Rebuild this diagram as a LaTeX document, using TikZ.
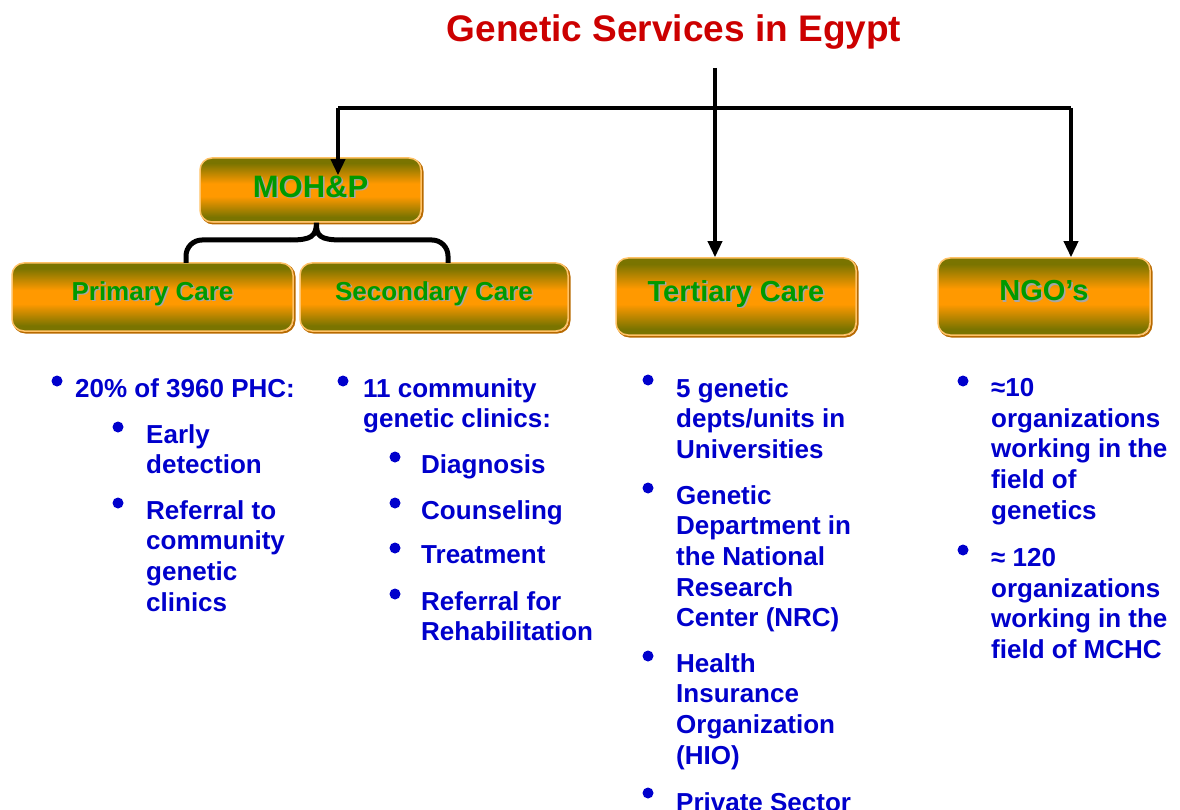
\documentclass[tikz,border=0pt]{standalone}
\usepackage{fontspec}
\setmainfont{Liberation Sans}
\usepackage{tikz}
\usetikzlibrary{positioning,calc,arrows.meta}
\definecolor{titlered}{HTML}{CC0000}
\definecolor{itemblue}{HTML}{0000CC}
\definecolor{boxgreen}{HTML}{009900}
\definecolor{boxolive}{HTML}{7A7400}
\definecolor{boxorange}{HTML}{FF9900}
\definecolor{boxrim}{HTML}{FFC266}
\definecolor{boxshade}{HTML}{B86A00}
\pgfdeclareverticalshading{carefill}{100bp}{color(0bp)=(boxolive); color(29bp)=(boxolive);
    color(45bp)=(boxorange); color(55bp)=(boxorange); color(71bp)=(boxolive); color(100bp)=(boxolive)}
\newcommand{\boxtext}[2][12pt]{\raisebox{#1}{\rlap{\hspace{1.5pt}\raisebox{-1.5pt}{\textcolor{gray!70}{#2}}}\textcolor{boxgreen}{#2}}}

\begin{document}
\begin{tikzpicture}[
    x=1pt, y=-1pt,
    >={Triangle[length=16pt,width=14pt]},
    wire/.style={draw, line width=3.5pt},
    brace/.style={draw, line width=5pt},
    carebox/.style={ draw=boxrim,
                     line width=1.5pt,
                     rounded corners=12pt,
                     shading=carefill,
                     font=\fontsize{26}{30}\selectfont\bfseries,
                     inner sep=0pt,
                     preaction={draw=boxshade, line width=2pt, transform canvas={xshift=1.5pt, yshift=-1.5pt}}},
    bullet/.style={circle, fill=itemblue, inner sep=0pt, minimum size=11pt},
    item/.style={anchor=north west,
                 align=left,
                 inner sep=0pt,
                 text=itemblue,
                 font=\fontsize{26}{30.7}\selectfont\bfseries}]

    \useasboundingbox (0,0) rectangle (1180,810);

    \node[text=titlered, font=\fontsize{37}{40}\selectfont\bfseries] (title) at (674,32) {Genetic Services in Egypt};

    % boxes
    \node[carebox, minimum width=221pt, minimum height=64pt, font=\fontsize{31}{34}\selectfont\bfseries] (moh) at (310.5,190) {\boxtext[7pt]{MOH\&P}};
    \node[carebox, minimum width=281pt, minimum height=68pt] (prim) at (152.5,297) {\boxtext{Primary Care}};
    \node[carebox, minimum width=268pt, minimum height=68pt] (sec) at (434,297) {\boxtext{Secondary Care}};
    \node[carebox, minimum width=240pt, minimum height=77pt, font=\fontsize{29}{32}\selectfont\bfseries] (tert) at (736,296.5) {\boxtext{Tertiary Care}};
    \node[carebox, minimum width=212pt, minimum height=77pt, font=\fontsize{29}{32}\selectfont\bfseries] (ngo) at (1044,296.5) {\boxtext{NGO's}};

    % connectors
    \coordinate (top) at (715,68);
    \coordinate (lft) at (338,108);
    \coordinate (rgt) at (1071,108);
    \draw[wire, ->] (top) -- (top |- tert.north);
    \draw[wire] (lft) -- (rgt);
    \draw[wire, ->, shorten >=-18pt] (lft) -- (lft |- moh.north);
    \draw[wire, ->] (rgt) -- (rgt |- ngo.north);

    % brace under MOH&P
    \coordinate (tip) at ($(moh.south)+(6,0)$);
    \draw[brace, rounded corners=16pt] (186,263) -- (186,240) -- (290,240);
    \draw[brace, rounded corners=16pt] (342,240) -- (448,240) -- (448,263);
    \draw[brace] (290,240) .. controls (312,240) and (316,236) .. (tip)
                           .. controls (316,236) and (320,240) .. (342,240);

    % primary care
    \node[bullet] (b1) at (57,381) {};
    \node[item] (p1) at (75,378) {20\% of 3960 PHC:};
    \node[bullet] (b2) at (118,427) {};
    \node[item] (p2) at (146,424) {Early\\detection};
    \node[bullet] (b3) at (118,503) {};
    \node[item] (p3) at (146,500) {Referral to\\community\\genetic\\clinics};

    % secondary care
    \node[bullet] (b4) at (343,381) {};
    \node[item] (s1) at (363,378) {11 community\\genetic clinics:};
    \node[bullet] (b5) at (395,457) {};
    \node[item] (s2) at (421,454) {Diagnosis};
    \node[bullet] (b6) at (395,503) {};
    \node[item] (s3) at (421,500) {Counseling};
    \node[bullet] (b7) at (395,548) {};
    \node[item] (s4) at (421,545) {Treatment};
    \node[bullet] (b8) at (395,594) {};
    \node[item] (s5) at (421,591) {Referral for\\Rehabilitation};

    % tertiary care
    \node[bullet] (b9) at (648,380) {};
    \node[item] (t1) at (676,378) {5 genetic\\depts/units in\\Universities};
    \node[bullet] (b10) at (648,488) {};
    \node[item] (t2) at (676,485) {Genetic\\Department in\\the National\\Research\\Center (NRC)};
    \node[bullet] (b11) at (648,656) {};
    \node[item] (t3) at (676,653) {Health\\Insurance\\Organization\\(HIO)};
    \node[bullet] (b12) at (648,793) {};
    \node[item] (t4) at (676,792) {Private Sector};

    % NGO's
    \node[bullet] (b13) at (963,381) {};
    \node[item] (n1) at (991,378) {≈10\\organizations\\working in the\\field of\\genetics};
    \node[bullet] (b14) at (963,550) {};
    \node[item] (n2) at (991,548) {≈ 120\\organizations\\working in the\\field of MCHC};

\end{tikzpicture}
\end{document}
